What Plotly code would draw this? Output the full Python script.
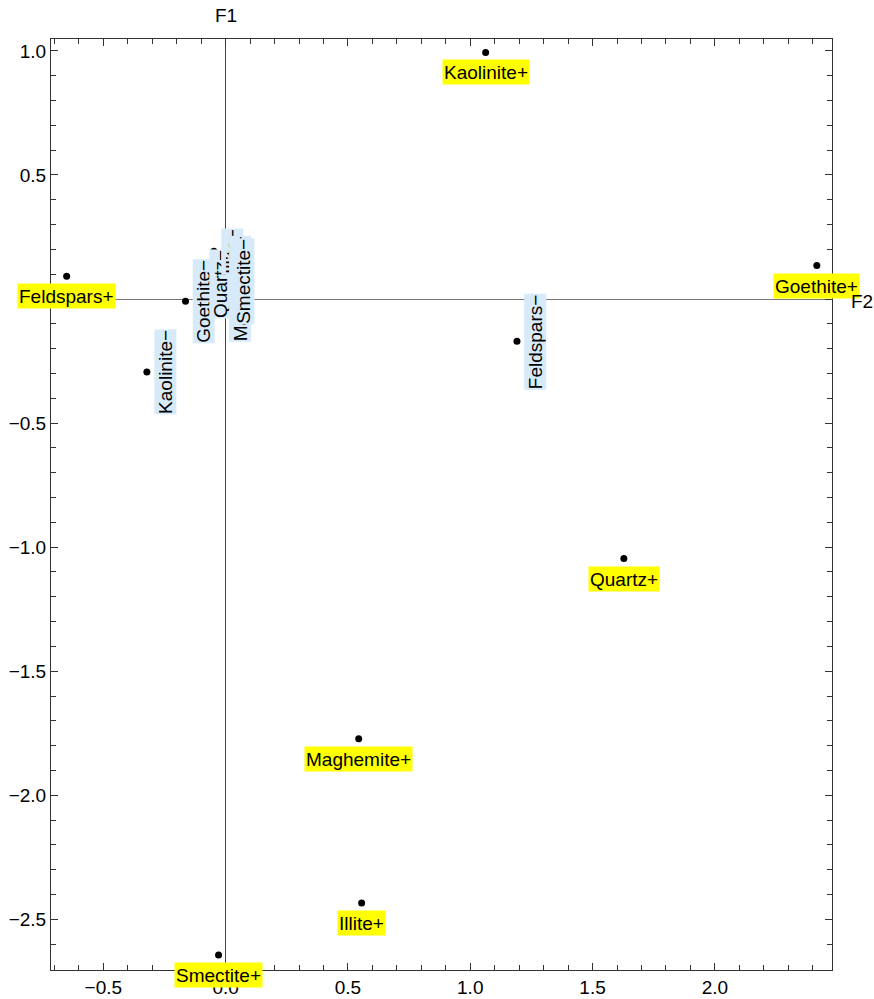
import plotly.graph_objects as go

# --- data ---
plus_names = ["Kaolinite+", "Goethite+", "Feldspars+", "Quartz+", "Maghemite+", "Illite+", "Smectite+"]
plus_f2 = [1.063, 2.417, -0.650, 1.628, 0.544, 0.556, -0.029]
plus_f1 = [0.994, 0.135, 0.092, -1.046, -1.772, -2.434, -2.644]

minus_names = ["Feldspars\u2212", "Kaolinite\u2212", "Goethite\u2212", "Quartz\u2212", "Illite\u2212", "Maghemite\u2212", "Smectite\u2212"]
minus_f2 = [1.191, -0.322, -0.164, -0.095, -0.048, -0.013, -0.001]
minus_f1 = [-0.170, -0.294, -0.009, 0.0625, 0.193, 0.041, 0.071]

x_range = [-0.714, 2.479]
y_range = [-2.704, 1.048]

FONT = "Liberation Sans, Arial, sans-serif"
YELLOW = "#FFFF00"
LIGHTBLUE = "#D6EAFA"
FS = 19

fig = go.Figure()
fig.add_trace(go.Scatter(
    x=plus_f2 + minus_f2, y=plus_f1 + minus_f1, mode="markers",
    marker=dict(color="black", size=7), showlegend=False, hoverinfo="skip",
    cliponaxis=False,
))

annotations = []
for n, x, y in zip(plus_names, plus_f2, plus_f1):
    annotations.append(dict(x=x, y=y, xref="x", yref="y", text=n, showarrow=False,
                            yshift=-20, bgcolor=YELLOW, borderpad=1, height=22,
                            font=dict(size=FS, color="black", family=FONT)))
for n, x, y in zip(minus_names, minus_f2, minus_f1):
    annotations.append(dict(x=x, y=y, xref="x", yref="y", text=n, showarrow=False,
                            xshift=18, textangle=-90, bgcolor=LIGHTBLUE, borderpad=0,
                            height=21,
                            font=dict(size=FS, color="black", family=FONT)))
annotations.append(dict(x=0, y=1, xref="x", yref="paper", text="F1", showarrow=False,
                        yshift=24, yanchor="middle",
                        font=dict(size=FS, color="black", family=FONT)))
annotations.append(dict(x=1, y=0, xref="paper", yref="y", text="F2", showarrow=False,
                        xshift=30, yshift=-2, xanchor="center", yanchor="middle",
                        font=dict(size=FS, color="black", family=FONT)))

axis_common = dict(
    showgrid=False, showline=True, linecolor="#333333", linewidth=1, mirror="ticks",
    ticks="inside", ticklen=7, tickcolor="#333333", tickwidth=1,
    dtick=0.5, tick0=0, tickformat=".1f",
    minor=dict(ticks="inside", ticklen=5, dtick=0.1, tickcolor="#333333", showgrid=False),
    tickfont=dict(size=FS, color="black", family=FONT),
    zeroline=True, zerolinewidth=1, automargin=False,
)

fig.update_layout(
    width=874, height=999,
    margin=dict(l=51, r=42, t=39, b=29, autoexpand=False),
    paper_bgcolor="white", plot_bgcolor="white",
    xaxis=dict(range=x_range, zerolinecolor="#444444", **axis_common),
    yaxis=dict(range=y_range, zerolinecolor="#777777", **axis_common),
    annotations=annotations,
    font=dict(family=FONT, size=FS, color="black"),
)

fig.write_html("out.html")
